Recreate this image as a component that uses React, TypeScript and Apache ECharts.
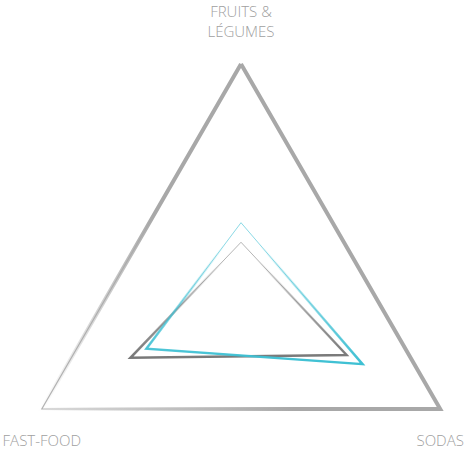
import React, { useEffect, useRef } from "react";
import * as echarts from "echarts";

const indicatorNames = ["FRUITS &\nLÉGUMES", "FAST-FOOD", "SODAS"];
const indicatorMax = [100, 100, 100];
const outerValues = [100, 100, 100];
const grayValues = [22.5, 55.5, 53];
const cyanValues = [31, 47.5, 61];

const W = 467;
const H = 451;
const CX = 241;
const CY = 294;
const R = 230;

const CYAN = "rgba(62,192,211,1)";
const CYAN0 = "rgba(62,192,211,0)";
const GRAY = "rgba(120,120,120,1)";
const GRAY0 = "rgba(120,120,120,0)";
const OUT = "rgba(168,168,168,1)";
const OUT0 = "rgba(168,168,168,0)";

export default function App() {
  const ref = useRef<HTMLDivElement>(null);
  useEffect(() => {
    document.body.style.margin = "0";
    if (!ref.current) return;
    const chart = echarts.init(ref.current, null, { renderer: "svg" });
    const G = echarts.graphic;
    const vertical = (c0: string, c1: string, s = 0.15) =>
      new G.LinearGradient(0, 0, 0, 1, [
        { offset: 0, color: c0 },
        { offset: s, color: c0 },
        { offset: 1, color: c1 },
      ]);
    const radial = new G.RadialGradient(0, 1, 1.15, [
      { offset: 0, color: OUT0 },
      { offset: 0.55, color: OUT },
      { offset: 1, color: OUT },
    ]);
    const mkSeries = (
      name: string,
      values: number[],
      width: number,
      color: any,
      z: number
    ) => ({
      type: "radar",
      name,
      z,
      symbol: "none",
      silent: true,
      data: [{ value: values, name }],
      lineStyle: { width, color, join: "miter" },
    });

    // label positions, derived from radar geometry
    const ang = [90, 210, 330].map((a) => (a * Math.PI) / 180);
    const vx = ang.map((a) => CX + R * Math.cos(a));
    const vy = ang.map((a) => CY - R * Math.sin(a));
    const labelStyle = {
      fill: "#a0a0a0",
      fontFamily: "'Open Sans', Lato, sans-serif",
      fontWeight: 300,
      fontSize: 15,
      lineHeight: 20,
      align: "center",
    };

    chart.setOption({
      animation: false,
      backgroundColor: "#ffffff",
      radar: {
        center: [CX, CY],
        radius: R,
        startAngle: 90,
        shape: "polygon",
        splitNumber: 1,
        indicator: indicatorNames.map((n, i) => ({ name: n, max: indicatorMax[i], min: 0 })),
        axisName: { show: false },
        axisLine: { show: false },
        axisTick: { show: false },
        splitLine: { show: false },
        splitArea: { show: false },
      },
      series: [
        mkSeries("outer-base", outerValues, 1.2, "#b4b4b4", 1),
        mkSeries("outer", outerValues, 4, radial, 2),
        mkSeries("gray-base", grayValues, 1, "rgba(120,120,120,0.55)", 3),
        mkSeries("gray", grayValues, 2.5, vertical(GRAY0, GRAY), 4),
        mkSeries("cyan-base", cyanValues, 1, "rgba(62,192,211,0.6)", 5),
        mkSeries("cyan", cyanValues, 2.5, vertical(CYAN0, CYAN), 6),
      ],
      graphic: [
        {
          type: "text",
          x: vx[0],
          y: vy[0] - 63,
          style: { ...labelStyle, text: indicatorNames[0], verticalAlign: "top" },
        },
        {
          type: "text",
          x: vx[1],
          y: vy[1] + 31,
          style: { ...labelStyle, text: indicatorNames[1], verticalAlign: "middle" },
        },
        {
          type: "text",
          x: vx[2],
          y: vy[2] + 31,
          style: { ...labelStyle, text: indicatorNames[2], verticalAlign: "middle" },
        },
      ],
    });
    return () => chart.dispose();
  }, []);
  return <div ref={ref} style={{ width: W, height: H }} />;
}
